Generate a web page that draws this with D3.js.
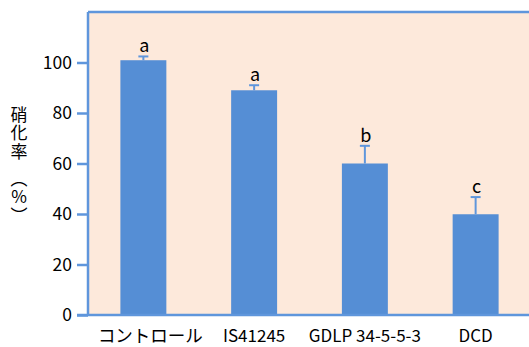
<!DOCTYPE html>
<html>
<head>
<meta charset="utf-8">
<script src="https://cdn.jsdelivr.net/npm/d3@7"></script>
<style>
  html, body { margin: 0; padding: 0; background: #ffffff; }
  svg { display: block; }
  text { font-family: "Noto Sans CJK JP", sans-serif; fill: #000; }
</style>
</head>
<body>
<svg id="chart" width="529" height="347"></svg>
<script>
// Nitrification rate by treatment (mean, error, significance group)
const categories = ["コントロール", "IS41245", "GDLP 34-5-5-3", "DCD"];
const rates = [100.9, 89.0, 60.0, 39.9];
const errors = [1.5, 2.0, 7.0, 6.8];
const groups = ["a", "a", "b", "c"];
const yTicks = [0, 20, 40, 60, 80, 100];
const yTitle = "硝化率";
const yUnit = "（%）";

const svg = d3.select("#chart");
const plot = { left: 88, top: 12, bottom: 315, right: 531 };

const x = d3.scaleBand()
  .domain(categories)
  .range([plot.left, plot.right])
  .paddingInner(0.585)
  .paddingOuter(0.2925);

const y = d3.scaleLinear()
  .domain([0, 120])
  .range([plot.bottom, plot.top]);

const barColor = "#558ED5";
const lineColor = "#5F96DC";

// plot background
svg.append("rect")
  .attr("x", plot.left).attr("y", plot.top)
  .attr("width", plot.right - plot.left)
  .attr("height", plot.bottom - plot.top)
  .attr("fill", "#FDE9DB");

const data = categories.map((c, i) => ({ c, v: rates[i], e: errors[i], g: groups[i] }));

// bars
svg.append("g").selectAll("rect")
  .data(data).join("rect")
  .attr("x", d => x(d.c))
  .attr("y", d => y(d.v))
  .attr("width", x.bandwidth())
  .attr("height", d => y(0) - y(d.v))
  .attr("fill", barColor);

// error bars (upper only)
const eb = svg.append("g").attr("stroke", lineColor).attr("stroke-width", 2);
eb.selectAll("line.v").data(data).join("line").attr("class", "v")
  .attr("x1", d => x(d.c) + x.bandwidth() / 2)
  .attr("x2", d => x(d.c) + x.bandwidth() / 2)
  .attr("y1", d => y(d.v))
  .attr("y2", d => y(d.v + d.e));
eb.selectAll("line.cap").data(data).join("line").attr("class", "cap")
  .attr("x1", d => x(d.c) + x.bandwidth() / 2 - 5)
  .attr("x2", d => x(d.c) + x.bandwidth() / 2 + 5)
  .attr("y1", d => y(d.v + d.e))
  .attr("y2", d => y(d.v + d.e));

// significance letters
svg.append("g").selectAll("text")
  .data(data).join("text")
  .attr("x", d => x(d.c) + x.bandwidth() / 2 + 1)
  .attr("y", d => y(d.v + d.e) - 4)
  .attr("text-anchor", "middle")
  .attr("font-size", 18)
  .text(d => d.g);

// y axis
const yAxis = svg.append("g")
  .attr("transform", `translate(${plot.left},0)`)
  .call(d3.axisLeft(y).tickValues(yTicks).tickSize(11).tickPadding(5));
yAxis.select(".domain").remove();
yAxis.selectAll(".tick line").attr("stroke", lineColor).attr("stroke-width", 2.5);
yAxis.selectAll(".tick text")
  .attr("font-family", "Noto Sans CJK JP")
  .attr("font-size", 17.5)
  .attr("fill", "#000");

// x axis labels
const xAxis = svg.append("g")
  .attr("transform", `translate(0,${plot.bottom})`)
  .call(d3.axisBottom(x).tickSize(0));
xAxis.select(".domain").remove();
xAxis.selectAll(".tick text")
  .attr("font-family", "Noto Sans CJK JP")
  .attr("font-size", d => /[^\x00-\x7F]/.test(d) ? 17.5 : 17)
  .attr("y", 27)
  .attr("dy", 0)
  .attr("dx", (d, i) => i === 0 ? 7 : 0)
  .attr("fill", "#000");

// frame lines: top, left, bottom
svg.append("line")
  .attr("x1", plot.left).attr("x2", 529)
  .attr("y1", plot.top).attr("y2", plot.top)
  .attr("stroke", lineColor).attr("stroke-width", 2.5);
svg.append("line")
  .attr("x1", plot.left).attr("x2", plot.left)
  .attr("y1", plot.top).attr("y2", plot.bottom)
  .attr("stroke", lineColor).attr("stroke-width", 2.5);
svg.append("line")
  .attr("x1", plot.left - 11).attr("x2", 529)
  .attr("y1", plot.bottom).attr("y2", plot.bottom)
  .attr("stroke", lineColor).attr("stroke-width", 2.5);

// vertical axis title
const vertical = sel => sel
  .attr("x", 19)
  .attr("text-anchor", "start")
  .attr("font-size", 17)
  .attr("letter-spacing", 1.5)
  .style("writing-mode", "vertical-rl")
  .style("text-orientation", "upright");
svg.append("text").call(vertical).attr("y", 106).text(yTitle);
svg.append("text").call(vertical).attr("y", 170).text(yUnit);
</script>
</body>
</html>
